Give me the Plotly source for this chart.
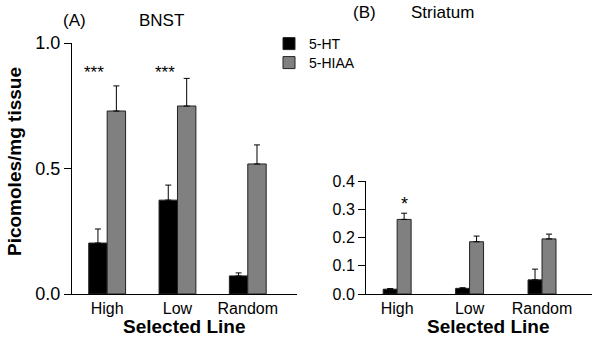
import plotly.graph_objects as go

categories = ["High", "Low", "Random"]
series_names = ["5-HT", "5-HIAA"]

bnst_5ht = [0.203, 0.374, 0.072]
bnst_5ht_err = [0.056, 0.060, 0.012]
bnst_5hiaa = [0.729, 0.749, 0.518]
bnst_5hiaa_err = [0.100, 0.110, 0.076]

str_5ht = [0.017, 0.020, 0.050]
str_5ht_err = [0.002, 0.002, 0.038]
str_5hiaa = [0.264, 0.185, 0.195]
str_5hiaa_err = [0.022, 0.020, 0.017]

left_ticks = [0.0, 0.5, 1.0]
right_ticks = [0.0, 0.1, 0.2, 0.3, 0.4]

FONT = "Liberation Sans, Arial, sans-serif"
BLACK = "#000000"
GRAY = "#808080"
W, H = 600, 342


def px(x):
    return x / W


def py(y):
    return 1 - y / H


fig = go.Figure()


def add_bar(vals, errs, name, color, xa, ya, width, offset, legend):
    fig.add_trace(go.Bar(
        x=categories, y=vals, name=name, xaxis=xa, yaxis=ya,
        width=width, offset=offset, showlegend=legend is not None,
        legend=legend or "legend",
        marker=dict(color=color, line=dict(color="#222222", width=1)),
        error_y=dict(type="data", symmetric=False, array=errs,
                     arrayminus=[0] * len(errs), color="#000000",
                     thickness=1, width=3),
    ))


wl = 0.262
wr = 0.193
add_bar(bnst_5ht, bnst_5ht_err, series_names[0], BLACK, "x", "y", wl, -wl, "legend")
add_bar(bnst_5hiaa, bnst_5hiaa_err, series_names[1], GRAY, "x", "y", wl, 0, "legend2")
add_bar(str_5ht, str_5ht_err, series_names[0], BLACK, "x2", "y2", wr, -wr, None)
add_bar(str_5hiaa, str_5hiaa_err, series_names[1], GRAY, "x2", "y2", wr, 0, None)

axis_common = dict(showline=True, linecolor="#000000", linewidth=1,
                   showgrid=False, zeroline=False, automargin=False)

legend_common = dict(xanchor="left", yanchor="top", font=dict(size=14),
                     bgcolor="rgba(0,0,0,0)")

fig.update_layout(
    width=W, height=H,
    margin=dict(l=0, r=0, t=0, b=0, autoexpand=False),
    paper_bgcolor="white", plot_bgcolor="white",
    font=dict(family=FONT, color="#000000", size=14),
    barmode="overlay",
    xaxis=dict(domain=[px(72), px(297)], range=[-0.5, 2.7], anchor="y",
               type="category", ticks="", tickfont=dict(size=16),
               **axis_common),
    yaxis=dict(domain=[py(294), py(43)], range=[0, 1.0], anchor="x",
               tickvals=left_ticks, ticktext=[f"{v:.1f}" for v in left_ticks],
               ticks="outside", ticklen=7, tickcolor="#000000",
               tickfont=dict(size=18),
               **axis_common),
    xaxis2=dict(domain=[px(366), px(592)], range=[-0.43, 2.69], anchor="y2",
                type="category", ticks="", tickfont=dict(size=16),
                **axis_common),
    yaxis2=dict(domain=[py(294), py(181)], range=[0, 0.4], anchor="x2",
                tickvals=right_ticks, ticktext=[f"{v:.1f}" for v in right_ticks],
                ticks="outside", ticklen=7, tickcolor="#000000",
                tickfont=dict(size=16),
                **axis_common),
    legend=dict(x=px(269), y=py(28), **legend_common),
    legend2=dict(x=px(269), y=py(47), **legend_common),
)


def paper_text(text, x, y, size, bold=False, angle=0):
    return dict(text=f"<b>{text}</b>" if bold else text, x=px(x), y=py(y),
                xref="paper", yref="paper", showarrow=False,
                xanchor="center", yanchor="middle",
                font=dict(size=size), textangle=angle)


annotations = [
    paper_text("(A)", 74, 20, 17),
    paper_text("BNST", 161, 20, 17),
    paper_text("(B)", 365, 12, 17),
    paper_text("Striatum", 442, 12, 17),
    paper_text("Selected Line", 184, 326, 19, bold=True),
    paper_text("Selected Line", 489, 326, 19, bold=True),
    paper_text("Picomoles/mg tissue", 15, 162, 19, bold=True, angle=-90),
    dict(text="***", x="High", y=0.884, xref="x", yref="y", xshift=-13,
         showarrow=False, xanchor="center", yanchor="middle", font=dict(size=17)),
    dict(text="***", x="Low", y=0.884, xref="x", yref="y", xshift=-12,
         showarrow=False, xanchor="center", yanchor="middle", font=dict(size=17)),
    dict(text="*", x="High", y=0.318, xref="x2", yref="y2", xshift=7,
         showarrow=False, xanchor="center", yanchor="middle", font=dict(size=18)),
]
fig.update_layout(annotations=annotations)

fig.write_html("out.html",
               config={"displayModeBar": False},
               post_script="document.body.style.margin='0';")
